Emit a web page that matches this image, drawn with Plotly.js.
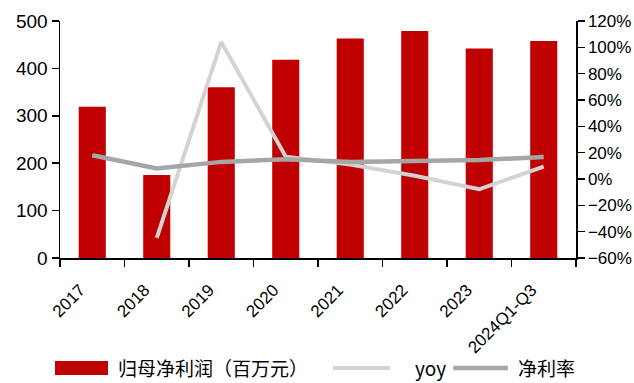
<!DOCTYPE html>
<html><head><meta charset="utf-8">
<script src="https://cdn.plot.ly/plotly-3.0.1.min.js"></script>
<style>body{margin:0;background:#fff}#c{width:634px;height:383px}</style>
</head><body><div id="c"></div>
<script>
const categories = ['2017','2018','2019','2020','2021','2022','2023','2024Q1-Q3'];
const netProfit = [319, 175, 360, 418, 463, 479, 442, 458];
const yoy = [null, -44.8, 104, 17, 11, 2.5, -7.8, 9.4];
const netMargin = [18, 8, 13, 15, 13, 13.7, 14.4, 16.7];
const yLeftTicks = [0,100,200,300,400,500];
const yRightTicks = [-60,-40,-20,0,20,40,60,80,100,120];
const seriesNames = ['归母净利润（百万元）', 'yoy', '净利率'];
const colors = ['#C00000', '#D3D3D3', '#A6A6A6'];

const font = 'Liberation Sans, Arial, sans-serif';
const cjk = 'Noto Sans CJK SC, sans-serif';
const data = [
  {type:'bar', x:categories, y:netProfit, name:seriesNames[0], marker:{color:colors[0]}, width:0.42},
  {type:'scatter', mode:'lines', x:categories, y:yoy, yaxis:'y2', name:seriesNames[1], line:{color:colors[1], width:4}},
  {type:'scatter', mode:'lines', x:categories, y:netMargin, yaxis:'y2', name:seriesNames[2], line:{color:colors[2], width:4.5}}
];
// Manual legend (swatches + labels) placed below the plot, in paper coordinates
const legY = -0.464;
const shapes = [
  {type:'rect', xref:'paper', yref:'paper', x0:-0.0097, x1:0.093, y0:-0.494, y1:-0.435, fillcolor:colors[0], line:{width:0}},
  {type:'line', xref:'paper', yref:'paper', x0:0.529, x1:0.640, y0:legY, y1:legY, line:{color:colors[1], width:4}},
  {type:'line', xref:'paper', yref:'paper', x0:0.762, x1:0.868, y0:legY, y1:legY, line:{color:colors[2], width:4.5}}
];
const annotations = seriesNames.map((t,i)=>({xref:'paper', yref:'paper', x:[0.110,0.686,0.886][i], y:legY, text:t,
  xanchor:'left', yanchor:'middle', showarrow:false, borderpad:0, font:{family:cjk, size:19, color:'#000'}}));
const layout = {
  width:634, height:383,
  margin:{l:60, r:58, t:21, b:125},
  paper_bgcolor:'#fff', plot_bgcolor:'#fff',
  font:{family:font, color:'#000', size:17},
  showlegend:false,
  shapes:shapes, annotations:annotations,
  xaxis:{type:'category', tickson:'boundaries', ticks:'outside', ticklen:7, tickcolor:'#000', tickwidth:1.5,
    showline:true, linecolor:'#000', linewidth:1.5, tickangle:-45, showgrid:false, zeroline:false,
    ticklabelstandoff:14, ticklabelshift:-12,
    tickfont:{family:font, size:17}},
  yaxis:{range:[0,500], tickvals:yLeftTicks, ticktext:yLeftTicks.map(String), ticks:'outside', ticklen:7, tickcolor:'#000', tickwidth:1.5,
    showline:true, linecolor:'#000', linewidth:1.5, showgrid:false, zeroline:false, tickfont:{family:font, size:19}},
  yaxis2:{overlaying:'y', side:'right', range:[-60,120], tickvals:yRightTicks, ticktext:yRightTicks.map(v=>(v<0?'−'+(-v):v)+'%'),
    ticks:'outside', ticklen:7, tickcolor:'#000', tickwidth:1.5, showline:true, linecolor:'#000', linewidth:1.5,
    showgrid:false, zeroline:false, tickfont:{family:font, size:17}}
};
Plotly.newPlot('c', data, layout, {displayModeBar:false, staticPlot:true});
</script></body></html>
